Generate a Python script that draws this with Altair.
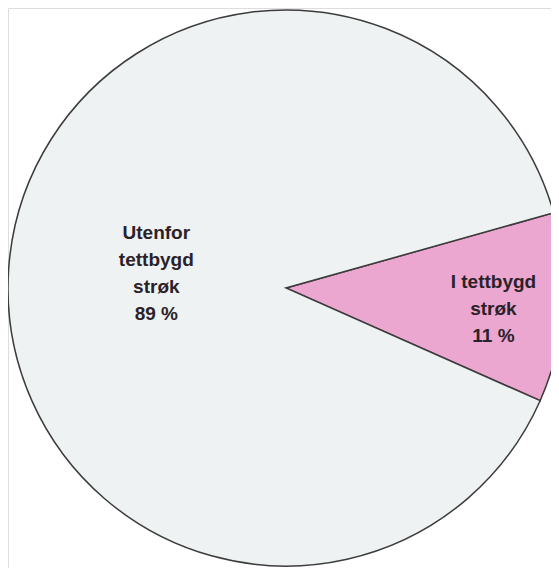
import altair as alt
import pandas as pd

categories = ["I tettbygd strøk", "Utenfor tettbygd strøk"]
shares = [11, 89]
labels = ["I tettbygd\nstrøk\n11 %", "Utenfor\ntettbygd\nstrøk\n89 %"]
colors = ["#eba7d0", "#eef2f2"]

df = pd.DataFrame({"cat": categories, "share": shares, "label": labels,
                   "order": list(range(len(categories)))})

CX, CY, R = 278, 280, 278
start = 1.297
total = sum(shares)
theta_scale = alt.Scale(domain=[0, total], range=[start, start + 6.283185307])

arcs = alt.Chart(df).mark_arc(radius=R, stroke="#3c3c3c", strokeWidth=1.5).encode(
    theta=alt.Theta("share:Q", stack=True, scale=theta_scale),
    order=alt.Order("order:Q"),
    color=alt.Color("cat:N", scale=alt.Scale(domain=categories, range=colors), legend=None),
    x=alt.value(CX),
    y=alt.value(CY),
)

text_base = alt.Chart(df).transform_window(
    cum="sum(share)", sort=[alt.SortField("order")]
).transform_calculate(mid="datum.cum - datum.share / 2").encode(
    theta=alt.Theta("mid:Q", stack=None, scale=theta_scale),
    text="label:N",
    x=alt.value(CX),
    y=alt.value(CY),
)

text_style = dict(font="Liberation Sans", fontSize=19, fontWeight="bold",
                  color="#2b2229", lineBreak="\n", lineHeight=27,
                  align="center", baseline="middle")

t_pink = text_base.transform_filter(alt.datum.cat == categories[0]).mark_text(
    radius=208, dy=-21, **text_style)
t_grey = text_base.transform_filter(alt.datum.cat == categories[1]).mark_text(
    radius=130, dy=-46, **text_style)

chart = alt.layer(arcs, t_pink, t_grey).properties(
    width=543, height=560, padding=0,
    autosize=alt.AutoSizeParams(type="none"),
).configure_view(stroke=None).configure(background="white")

chart.save("out.html", embed_options={"renderer": "svg", "actions": False})
